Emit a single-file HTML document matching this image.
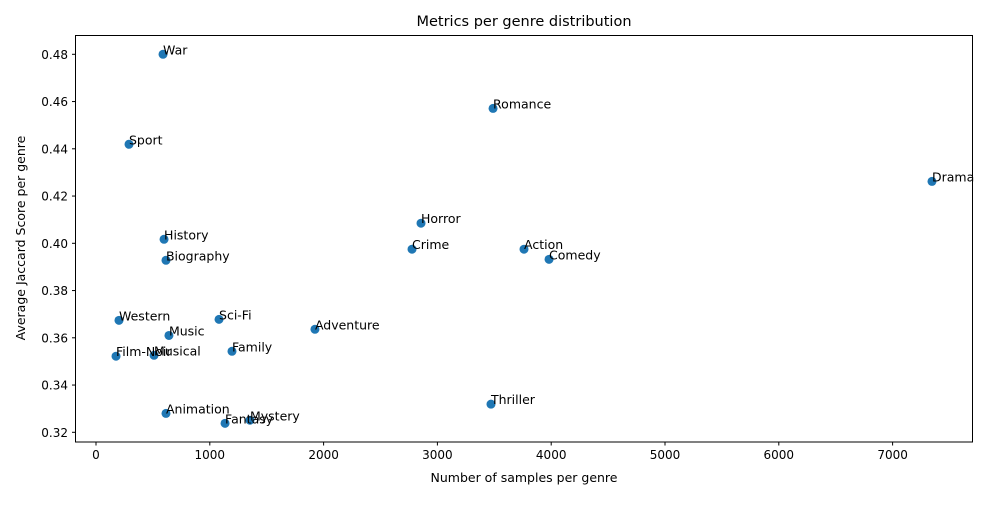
<!DOCTYPE html>
<html><head><meta charset="utf-8"><style>
body{margin:0;background:#fff}
svg{font-family:"DejaVu Sans","Liberation Sans",sans-serif}
</style></head><body>
<svg id="chart" width="1000" height="500">
<rect width="1000" height="500" fill="#fff"/>
<text x="524" y="26" font-size="14.5" text-anchor="middle">Metrics per genre distribution</text>
<g id="axes"></g>
<g id="points"></g>
<rect x="75.5" y="35.5" width="897" height="406.5" fill="none" stroke="#000" stroke-width="1"/>
<text x="524" y="482" font-size="12.5" text-anchor="middle">Number of samples per genre</text>
<text transform="translate(25,238) rotate(-90)" font-size="12.5" text-anchor="middle">Average Jaccard Score per genre</text>
</svg>
<script>
const genres=["War","Romance","Sport","Drama","Horror","History","Crime","Action","Comedy","Biography","Western","Sci-Fi","Adventure","Music","Family","Musical","Film-Noir","Thriller","Animation","Mystery","Fantasy"];
const samples=[589,3489,290,7346,2856,598,2777,3761,3981,615,202,1081,1924,641,1195,510,176,3471,615,1353,1134];
const scores=[0.480,0.4571,0.4419,0.4262,0.4085,0.4017,0.3975,0.3975,0.3932,0.3928,0.3674,0.3678,0.3636,0.3610,0.3543,0.3526,0.3522,0.3319,0.3280,0.3251,0.3238];
const xTicks=[0,1000,2000,3000,4000,5000,6000,7000];
const yTicks=[0.32,0.34,0.36,0.38,0.40,0.42,0.44,0.46,0.48];
const NS="http://www.w3.org/2000/svg";
const xs=v=>96+v*0.1138;
const ys=v=>54.3+(0.48-v)/0.02*47.25;
const axes=document.getElementById('axes'),pts=document.getElementById('points');
function mk(tag,attrs,parent,txt){const e=document.createElementNS(NS,tag);for(const k in attrs)e.setAttribute(k,attrs[k]);if(txt!==undefined)e.textContent=txt;parent.appendChild(e);return e;}
xTicks.forEach(t=>{const x=xs(t);
const l=mk('line',{x1:x,x2:x,y1:442,y2:445.5,stroke:'#000'},axes);


const tx=mk('text',{x:x,y:459,'font-size':12,'text-anchor':'middle'},axes,String(t));

});
yTicks.forEach(t=>{const y=ys(t);
const l=mk('line',{x1:72,x2:75.5,y1:y,y2:y,stroke:'#000'},axes);


const tx=mk('text',{x:68,y:y+4.5,'font-size':12,'text-anchor':'end'},axes,t.toFixed(2));

});
genres.forEach((g,i)=>{const x=xs(samples[i]),y=ys(scores[i]);
const c=mk('circle',{cx:x,cy:y,r:4.5,fill:'#1f77b4'},pts);


const t=mk('text',{x:x,y:y,'font-size':12.5},pts,g);

});
</script>
</body></html>
